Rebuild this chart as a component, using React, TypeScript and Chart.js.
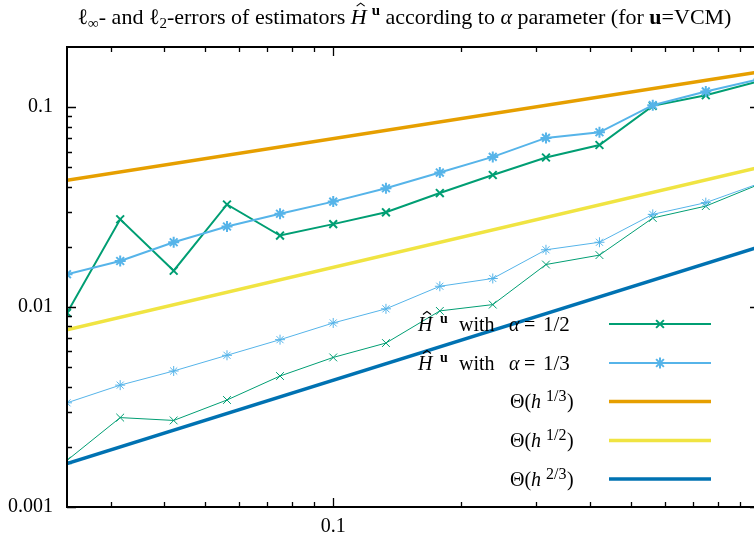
import React, { useEffect, useRef } from "react";
import { Chart, registerables } from "chart.js";

Chart.register(...registerables);

// ---------- data ----------
const hValues = [0.0237, 0.0316, 0.0422, 0.0563, 0.075, 0.1, 0.133, 0.178, 0.237, 0.316, 0.422, 0.563, 0.75, 1];

// l-infinity errors
const linfAlpha12 = [0.00935, 0.0275, 0.0152, 0.0326, 0.0228, 0.026, 0.0298, 0.0372, 0.0458, 0.056, 0.0647, 0.1015, 0.1148, 0.135];
const linfAlpha13 = [0.0146, 0.017, 0.0211, 0.0253, 0.0293, 0.0337, 0.0393, 0.0471, 0.0564, 0.0702, 0.0749, 0.1023, 0.1199, 0.138];
// l2 errors
const l2Alpha12 = [0.00171, 0.0028, 0.00271, 0.00343, 0.00452, 0.0056, 0.00661, 0.00957, 0.01029, 0.01633, 0.0182, 0.0279, 0.032, 0.0411];
const l2Alpha13 = [0.00332, 0.00407, 0.00479, 0.00574, 0.00687, 0.00833, 0.0098, 0.01271, 0.0139, 0.01935, 0.0211, 0.0291, 0.0333, 0.0415];

// reference slopes (end points)
const thetaH = [0.0237, 1];
const theta13 = [0.0431, 0.15];
const theta12 = [0.0077, 0.05];
const theta23 = [0.00165, 0.02];

// axes
const xMin = 0.0237;
const xMax = 1;
const yMin = 0.001;
const yMax = 0.2;
const xMajorTicks = [0.1, 1];
const xLabelTicks = [0.1];
const xTickLabels = ["0.1"];
const xMinorTicks = [0.03, 0.04, 0.05, 0.06, 0.07, 0.08, 0.09, 0.2, 0.3, 0.4, 0.5, 0.6, 0.7, 0.8, 0.9];
const yMajorTicks = [0.001, 0.01, 0.1];
const yTickLabels = ["0.001", "0.01", "0.1"];
const yMinorTicks = [0.002, 0.003, 0.004, 0.005, 0.006, 0.007, 0.008, 0.009, 0.02, 0.03, 0.04, 0.05, 0.06, 0.07, 0.08, 0.09];

// colours
const GREEN = "#009e73";
const LBLUE = "#56b4e9";
const ORANGE = "#e69f00";
const YELLOW = "#f0e442";
const DBLUE = "#0072b2";

const SERIF = "'Liberation Serif', 'Times New Roman', serif";
const F_REG = `20px ${SERIF}`;
const F_FRAC = `21px ${SERIF}`;
const F_IT = `italic 20px ${SERIF}`;
const F_SUP = `16px ${SERIF}`;
const F_BSUP = `bold 14px ${SERIF}`;
const T_REG = `22px ${SERIF}`;
const T_IT = `italic 22px ${SERIF}`;
const T_BOLD = `bold 22px ${SERIF}`;
const T_SMALL = `15px ${SERIF}`;
const T_BSMALL = `bold 15px ${SERIF}`;

type Run = { t: string; f: string; dy?: number; hat?: boolean; padL?: number; x?: number };

const titleRuns: Run[] = [
  { t: "\u2113", f: T_REG },
  { t: "\u221e", f: T_SMALL, dy: 4 },
  { t: "- and ", f: T_REG },
  { t: "\u2113", f: T_REG },
  { t: "2", f: T_SMALL, dy: 4 },
  { t: "-errors of estimators ", f: T_REG },
  { t: "H", f: T_IT, hat: true },
  { t: "u", f: T_BSMALL, dy: -9, padL: 5 },
  { t: " according to ", f: T_REG },
  { t: "\u03b1", f: T_IT },
  { t: " parameter (for ", f: T_REG },
  { t: "u", f: T_BOLD },
  { t: "=VCM)", f: T_REG },
];

// legend labels, each piece at its own x position
const legendRuns: Run[][] = [
  [
    { t: "H", f: F_IT, hat: true, x: 418 },
    { t: "u", f: F_BSUP, dy: -8, x: 440 },
    { t: "with", f: F_REG, x: 459 },
    { t: "\u03b1", f: F_IT, x: 509 },
    { t: "=", f: F_REG, x: 524 },
    { t: "1/2", f: F_FRAC, x: 543 },
  ],
  [
    { t: "H", f: F_IT, hat: true, x: 418 },
    { t: "u", f: F_BSUP, dy: -8, x: 440 },
    { t: "with", f: F_REG, x: 459 },
    { t: "\u03b1", f: F_IT, x: 509 },
    { t: "=", f: F_REG, x: 524 },
    { t: "1/3", f: F_FRAC, x: 543 },
  ],
  [
    { t: "\u0398(", f: F_REG, x: 510 },
    { t: "h", f: F_IT, x: 531 },
    { t: "1/3", f: F_SUP, dy: -7, x: 546 },
    { t: ")", f: F_REG, x: 567 },
  ],
  [
    { t: "\u0398(", f: F_REG, x: 510 },
    { t: "h", f: F_IT, x: 531 },
    { t: "1/2", f: F_SUP, dy: -7, x: 546 },
    { t: ")", f: F_REG, x: 567 },
  ],
  [
    { t: "\u0398(", f: F_REG, x: 510 },
    { t: "h", f: F_IT, x: 531 },
    { t: "2/3", f: F_SUP, dy: -7, x: 546 },
    { t: ")", f: F_REG, x: 567 },
  ],
];
const legendColors = [GREEN, LBLUE, ORANGE, YELLOW, DBLUE];
const legendWidths = [2, 2, 3.5, 3.5, 3.5];
const legendMarkers = ["crossRot", "star", "", "", ""];

function runsWidth(ctx: CanvasRenderingContext2D, runs: Run[]) {
  let w = 0;
  for (const r of runs) {
    ctx.font = r.f;
    w += (r.padL || 0) + ctx.measureText(r.t).width;
  }
  return w;
}

function drawRuns(ctx: CanvasRenderingContext2D, runs: Run[], x: number, y: number) {
  let cx = x;
  ctx.fillStyle = "#000";
  ctx.strokeStyle = "#000";
  ctx.textAlign = "left";
  ctx.textBaseline = "alphabetic";
  for (const r of runs) {
    if (r.x !== undefined) cx = r.x;
    cx += r.padL || 0;
    ctx.font = r.f;
    const w = ctx.measureText(r.t).width;
    ctx.fillText(r.t, cx, y + (r.dy || 0));
    if (r.hat) {
      const size = parseFloat(r.f.replace("italic ", ""));
      const hx = cx + w * 0.62;
      const hy = y - size * 0.95;
      ctx.lineWidth = 1.1;
      ctx.beginPath();
      ctx.moveTo(hx - 4, hy + 3);
      ctx.lineTo(hx, hy);
      ctx.lineTo(hx + 4, hy + 3);
      ctx.stroke();
    }
    cx += w;
  }
}

function drawMarker(ctx: CanvasRenderingContext2D, kind: string, x: number, y: number, r: number) {
  ctx.beginPath();
  const d = r * Math.SQRT1_2;
  if (kind === "crossRot" || kind === "star") {
    ctx.moveTo(x - d, y - d);
    ctx.lineTo(x + d, y + d);
    ctx.moveTo(x - d, y + d);
    ctx.lineTo(x + d, y - d);
  }
  if (kind === "star") {
    ctx.moveTo(x - r, y);
    ctx.lineTo(x + r, y);
    ctx.moveTo(x, y - r);
    ctx.lineTo(x, y + r);
  }
  ctx.stroke();
}

const framePlugin = {
  id: "gnuplotFrame",
  afterDraw(chart: any) {
    const ctx: CanvasRenderingContext2D = chart.ctx;
    const { left, right, top, bottom } = chart.chartArea;
    const xs = chart.scales.x;
    const ys = chart.scales.y;
    ctx.save();
    ctx.strokeStyle = "#000";
    // ticks
    ctx.lineWidth = 1.3;
    ctx.beginPath();
    const tick = (v: number, len: number, horiz: boolean) => {
      if (horiz) {
        const p = Math.round(xs.getPixelForValue(v)) + 0.5;
        ctx.moveTo(p, bottom);
        ctx.lineTo(p, bottom - len);
        ctx.moveTo(p, top);
        ctx.lineTo(p, top + len);
      } else {
        const p = Math.round(ys.getPixelForValue(v)) + 0.5;
        ctx.moveTo(left, p);
        ctx.lineTo(left + len, p);
        ctx.moveTo(right, p);
        ctx.lineTo(right - len, p);
      }
    };
    xMinorTicks.forEach((v) => tick(v, 5, true));
    xMajorTicks.forEach((v) => tick(v, 9, true));
    yMinorTicks.forEach((v) => tick(v, 5, false));
    yMajorTicks.forEach((v) => tick(v, 9, false));
    ctx.stroke();
    // border
    ctx.lineWidth = 2;
    ctx.strokeRect(left, top, right - left, bottom - top);

    // title
    const tw = runsWidth(ctx, titleRuns);
    drawRuns(ctx, titleRuns, 404.5 - tw / 2, 24);

    // legend
    const rowY = [324, 363, 401.5, 440.5, 479];
    legendRuns.forEach((runs, i) => {
      drawRuns(ctx, runs, 0, rowY[i] + 6.5);
      ctx.strokeStyle = legendColors[i];
      ctx.lineWidth = legendWidths[i];
      ctx.beginPath();
      ctx.moveTo(609, rowY[i]);
      ctx.lineTo(711, rowY[i]);
      ctx.stroke();
      if (legendMarkers[i]) {
        ctx.lineWidth = 2;
        drawMarker(ctx, legendMarkers[i], 660, rowY[i], 5.5);
      }
    });
    ctx.restore();
  },
};

function pts(xv: number[], yv: number[]) {
  return xv.map((x, i) => ({ x, y: yv[i] }));
}

export default function App() {
  const ref = useRef<HTMLCanvasElement | null>(null);

  useEffect(() => {
    const canvas = ref.current;
    if (!canvas) return;
    const lineDs = (label: string, yv: number[], color: string, width: number, style: any, radius: number, pw: number) => ({
      label,
      data: pts(hValues, yv),
      borderColor: color,
      backgroundColor: color,
      borderWidth: width,
      pointStyle: style,
      pointRadius: radius,
      pointBorderWidth: pw,
      pointBorderColor: color,
      pointBackgroundColor: color,
      tension: 0,
      fill: false,
    });
    const refDs = (label: string, yv: number[], color: string) => ({
      label,
      data: pts(thetaH, yv),
      borderColor: color,
      backgroundColor: color,
      borderWidth: 3.5,
      pointRadius: 0,
      tension: 0,
      fill: false,
    });

    const chart = new Chart(canvas, {
      type: "line",
      data: {
        datasets: [
          refDs("Θ(h^2/3)", theta23, DBLUE),
          refDs("Θ(h^1/2)", theta12, YELLOW),
          refDs("Θ(h^1/3)", theta13, ORANGE),
          lineDs("l2 α=1/3", l2Alpha13, LBLUE, 1, "star", 5, 1),
          lineDs("l2 α=1/2", l2Alpha12, GREEN, 1, "crossRot", 5.5, 1),
          lineDs("linf α=1/3", linfAlpha13, LBLUE, 2, "star", 5.5, 2),
          lineDs("linf α=1/2", linfAlpha12, GREEN, 2, "crossRot", 5.5, 2),
        ] as any,
      },
      options: {
        animation: false,
        responsive: false,
        maintainAspectRatio: false,
        devicePixelRatio: 1,
        layout: { padding: { top: 47, right: 11, left: 0, bottom: 0 } },
        plugins: {
          legend: { display: false },
          title: { display: false },
          tooltip: { enabled: false },
        },
        scales: {
          x: {
            type: "logarithmic",
            min: xMin,
            max: xMax,
            grid: { display: false, drawTicks: false },
            border: { display: false },
            afterBuildTicks: (s: any) => {
              s.ticks = xLabelTicks.map((v) => ({ value: v }));
            },
            afterFit: (s: any) => {
              s.height = 31;
            },
            ticks: {
              autoSkip: false,
              maxRotation: 0,
              padding: 8,
              color: "#000",
              font: { family: SERIF, size: 20 },
              callback: (v: any) => {
                const i = xLabelTicks.findIndex((t) => Math.abs(t - Number(v)) < 1e-9);
                return i >= 0 ? xTickLabels[i] : "";
              },
            },
          },
          y: {
            type: "logarithmic",
            min: yMin,
            max: yMax,
            grid: { display: false, drawTicks: false },
            border: { display: false },
            afterBuildTicks: (s: any) => {
              s.ticks = yMajorTicks.map((v) => ({ value: v }));
            },
            afterFit: (s: any) => {
              s.width = 67;
            },
            ticks: {
              autoSkip: false,
              padding: 14,
              color: "#000",
              font: { family: SERIF, size: 20 },
              callback: (v: any) => {
                const i = yMajorTicks.findIndex((t) => Math.abs(t - Number(v)) < 1e-12);
                return i >= 0 ? yTickLabels[i] : "";
              },
            },
          },
        },
      } as any,
      plugins: [framePlugin],
    });
    return () => chart.destroy();
  }, []);

  return (
    <div
      style={{
        position: "fixed",
        left: 0,
        top: 0,
        width: 754,
        height: 538,
        overflow: "hidden",
        background: "#fff",
      }}
    >
      <canvas ref={ref} width={770} height={538} style={{ display: "block", width: 770, height: 538 }} />
    </div>
  );
}
